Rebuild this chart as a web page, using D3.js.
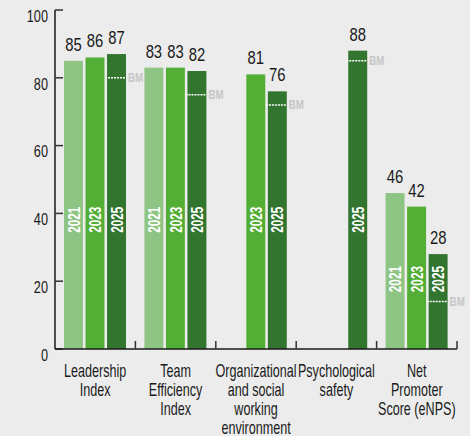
<!DOCTYPE html>
<html>
<head>
<meta charset="utf-8">
<script src="https://cdn.jsdelivr.net/npm/d3@7"></script>
<style>
  body { margin: 0; background: #ececec; }
  text { font-family: "Liberation Sans", Arial, sans-serif; }
</style>
</head>
<body>
<div id="chart"></div>
<script>
// data
var categories = ["Leadership Index", "Team Efficiency Index", "Organizational and social working environment", "Psychological safety", "Net Promoter Score (eNPS)"];
var categoryLines = [
  ["Leadership", "Index"],
  ["Team", "Efficiency", "Index"],
  ["Organizational", "and social", "working", "environment"],
  ["Psychological", "safety"],
  ["Net", "Promoter", "Score (eNPS)"]
];
var years = ["2021", "2023", "2025"];
var v2021 = [85, 83, null, null, 46];
var v2023 = [86, 83, 81, null, 42];
var v2025 = [87, 82, 76, 88, 28];
var benchmark = [80, 75, 72, 85, 14];
var yTicks = [0, 20, 40, 60, 80, 100];

var colors = { "2021": "#8fc584", "2023": "#53ae35", "2025": "#31752f" };

var width = 470, height = 436;

var svg = d3.select("#chart").append("svg")
  .attr("width", width)
  .attr("height", height)
  .style("display", "block");

svg.append("rect").attr("width", width).attr("height", height).attr("fill", "#ececec");

var y = d3.scaleLinear().domain([0, 100]).range([349, 10]);
var x0 = d3.scaleBand().domain(categories).range([55, 457]);
var x1 = d3.scaleBand().domain(years).range([9, 71]).paddingInner(0.12);

// flatten into bar records
var bars = [];
categories.forEach(function (c, i) {
  var vals = [v2021[i], v2023[i], v2025[i]];
  var present = vals.filter(function (v) { return v != null; });
  var groupMin = d3.min(present);
  years.forEach(function (yr, j) {
    if (vals[j] != null) bars.push({ cat: c, year: yr, value: vals[j], groupMin: groupMin });
  });
});

function barX(d) { return x0(d.cat) + x1(d.year); }
function barMid(d) { return barX(d) + x1.bandwidth() / 2; }

var g = svg.append("g");

// bars
g.selectAll("rect.bar").data(bars).enter().append("rect")
  .attr("class", "bar")
  .attr("x", barX)
  .attr("y", function (d) { return y(d.value); })
  .attr("width", x1.bandwidth())
  .attr("height", function (d) { return y(0) - y(d.value); })
  .attr("fill", function (d) { return colors[d.year]; });

// value labels (condensed look via horizontal squeeze)
g.selectAll("text.val").data(bars).enter().append("text")
  .attr("class", "val")
  .attr("transform", function (d) {
    return "translate(" + barMid(d) + "," + (y(d.value) - 10) + ") scale(0.8,1)";
  })
  .attr("text-anchor", "middle")
  .attr("font-size", 18.5)
  .attr("fill", "#1a1a1a")
  .text(function (d) { return d.value; });

// year labels inside bars
g.selectAll("text.yr").data(bars).enter().append("text")
  .attr("class", "yr")
  .attr("transform", function (d) {
    var top = Math.max(y(42), y(d.groupMin) + 12);
    return "translate(" + barMid(d) + "," + top + ") rotate(-90) scale(0.69,1)";
  })
  .attr("dy", "0.36em")
  .attr("text-anchor", "end")
  .attr("font-size", 17)
  .attr("font-weight", "bold")
  .attr("fill", "#ffffff")
  .text(function (d) { return d.year; });

// benchmark markers on the 2025 bar
var bm = g.selectAll("g.bm").data(categories).enter().append("g").attr("class", "bm");
bm.append("line")
  .attr("x1", function (c) { return x0(c) + x1("2025") - 2; })
  .attr("x2", function (c) { return x0(c) + x1("2025") + x1.bandwidth() - 1; })
  .attr("y1", function (c, i) { return y(benchmark[i]); })
  .attr("y2", function (c, i) { return y(benchmark[i]); })
  .attr("stroke", "#ffffff")
  .attr("stroke-width", 1.5)
  .attr("stroke-dasharray", "2,1");
bm.append("text")
  .attr("transform", function (c, i) {
    return "translate(" + (x0(c) + x1("2025") + x1.bandwidth() + 2) + "," + (y(benchmark[i]) + 4.5) + ") scale(0.75,1)";
  })
  .attr("font-size", 13)
  .attr("font-weight", "bold")
  .attr("fill", "#c6c6c6")
  .text("BM");

// y axis
var yAxis = svg.append("g");
yAxis.append("line")
  .attr("x1", 55).attr("x2", 55)
  .attr("y1", y(100)).attr("y2", y(0))
  .attr("stroke", "#1a1a1a").attr("stroke-width", 1.5);
yAxis.selectAll("line.tick").data(yTicks).enter().append("line")
  .attr("class", "tick")
  .attr("x1", 55).attr("x2", 63)
  .attr("y1", function (d) { return y(d); })
  .attr("y2", function (d) { return y(d); })
  .attr("stroke", "#333").attr("stroke-width", 1.5);
yAxis.selectAll("text").data(yTicks).enter().append("text")
  .attr("transform", function (d) { return "translate(48," + y(d) + ") scale(0.77,1)"; })
  .attr("dy", "0.72em")
  .attr("text-anchor", "end")
  .attr("font-size", 16.5)
  .attr("fill", "#1a1a1a")
  .text(function (d) { return d; });

// x axis
var xAxis = svg.append("g");
xAxis.append("line")
  .attr("x1", 55).attr("x2", 457)
  .attr("y1", y(0)).attr("y2", y(0))
  .attr("stroke", "#1a1a1a").attr("stroke-width", 1.5);
xAxis.selectAll("line.tick").data(categories).enter().append("line")
  .attr("class", "tick")
  .attr("x1", function (c) { return x0(c) + x0.bandwidth(); })
  .attr("x2", function (c) { return x0(c) + x0.bandwidth(); })
  .attr("y1", y(0) - 8).attr("y2", y(0))
  .attr("stroke", "#333").attr("stroke-width", 1.5);

var catText = xAxis.selectAll("text.cat").data(categories).enter().append("text")
  .attr("class", "cat")
  .attr("transform", function (c) {
    return "translate(" + (x0(c) + x0.bandwidth() / 2) + ",377) scale(0.7,1)";
  })
  .attr("text-anchor", "middle")
  .attr("font-size", 18)
  .attr("fill", "#1a1a1a");
catText.selectAll("tspan").data(function (c, i) { return categoryLines[i]; }).enter().append("tspan")
  .attr("x", 0)
  .attr("dy", function (d, i) { return i === 0 ? 0 : 19; })
  .text(function (d) { return d; });
</script>
</body>
</html>
